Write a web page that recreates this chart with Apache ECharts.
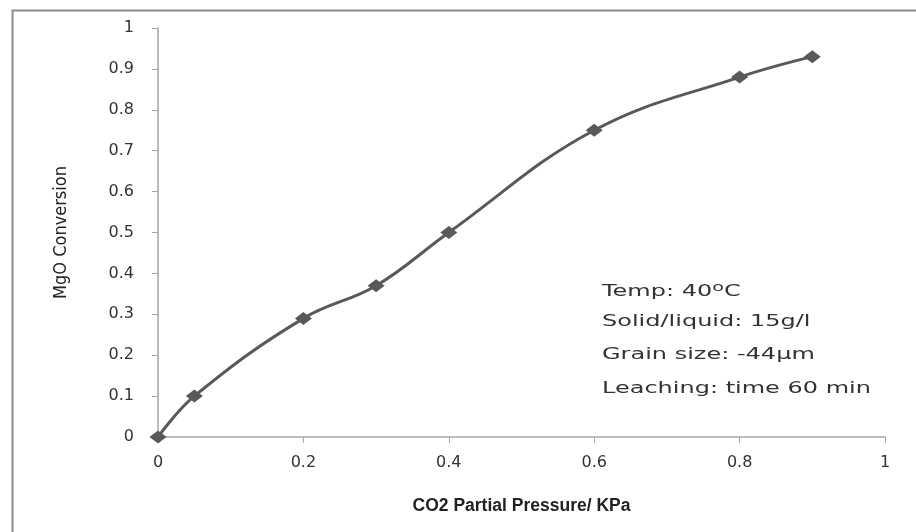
<!DOCTYPE html>
<html><head><meta charset="utf-8">
<script src="https://cdn.jsdelivr.net/npm/echarts@6/dist/echarts.min.js"></script>
<style>html,body{margin:0;padding:0;background:#fff}#c{width:916px;height:532px}</style>
</head><body><div id="c"></div>
<script>
const pressure = [0, 0.05, 0.2, 0.3, 0.4, 0.6, 0.8, 0.9];
const conversion = [0, 0.1, 0.29, 0.37, 0.5, 0.75, 0.88, 0.93];
const xTitle = 'CO2 Partial Pressure/ KPa';
const yTitle = 'MgO Conversion';
const notes = ['Solid/liquid: 15g/l', 'Grain size: -44\u00b5m', 'Leaching: time 60 min'];

const chart = echarts.init(document.getElementById('c'), null, {renderer: 'canvas'});
const labelFont = {fontFamily: 'DejaVu Sans', fontSize: 16, color: '#333'};
const noteStyle = {fontFamily: 'DejaVu Sans', fontSize: 15, fill: '#333'};
chart.setOption({
  animation: false,
  backgroundColor: '#fff',
  grid: {left: 158, right: 31, top: 28, bottom: 95},
  xAxis: {
    type: 'value', min: 0, max: 1, interval: 0.2,
    axisLine: {lineStyle: {color: '#a6a6a6', width: 1.5}},
    axisTick: {show: true, length: 6, lineStyle: {color: '#a6a6a6'}},
    splitLine: {show: false},
    axisLabel: Object.assign({margin: 18}, labelFont),
    name: xTitle, nameLocation: 'middle', nameGap: 60,
    nameTextStyle: {fontFamily: 'Liberation Sans', fontWeight: 'bold', fontSize: 17.5, color: '#222'}
  },
  yAxis: {
    type: 'value', min: 0, max: 1, interval: 0.1,
    axisLine: {show: true, lineStyle: {color: '#a6a6a6', width: 1.5}},
    axisTick: {show: true, length: 6, lineStyle: {color: '#a6a6a6'}},
    splitLine: {show: false},
    axisLabel: Object.assign({margin: 24}, labelFont),
    name: yTitle, nameLocation: 'middle', nameGap: 88,
    nameTextStyle: {fontFamily: 'DejaVu Sans Condensed, Liberation Sans', fontSize: 18, color: '#222'}
  },
  series: [{
    type: 'line',
    data: pressure.map((p, i) => [p, conversion[i]]),
    smooth: 0.4,
    symbol: 'diamond',
    symbolSize: [17, 13],
    lineStyle: {color: '#595959', width: 3},
    itemStyle: {color: '#595959'}
  }],
  graphic: [
    {type: 'rect', left: 10, top: 8, shape: {width: 1000, height: 1000},
     style: {fill: 'none', stroke: '#8c8c8c', lineWidth: 2}, silent: true, z: -1},
    {type: 'group', left: 602, top: 282, scaleX: 1.6, children: [
      {type: 'text', x: 0, y: 0,
       style: {text: '{a|Temp: 40}{s|o}{a|C}', rich: {
         a: noteStyle,
         s: {fontFamily: 'DejaVu Sans', fontSize: 12, fill: '#333', verticalAlign: 'top', padding: [0,0,9,0]}
       }}},
      {type: 'text', x: 0, y: 33, style: Object.assign({text: notes[0]}, noteStyle)},
      {type: 'text', x: 0, y: 66, style: Object.assign({text: notes[1]}, noteStyle)},
      {type: 'text', x: 0, y: 100, style: Object.assign({text: notes[2]}, noteStyle)}
    ]}
  ]
});
</script></body></html>
